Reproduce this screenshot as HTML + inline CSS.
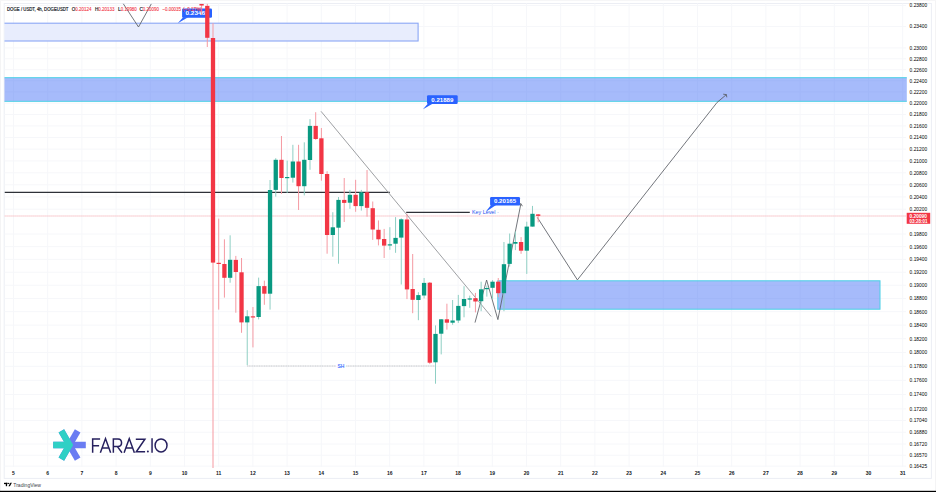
<!DOCTYPE html><html><head><meta charset="utf-8"><style>
html,body{margin:0;padding:0;background:#fff;width:936px;height:492px;overflow:hidden}
svg{display:block}
text{font-family:"Liberation Sans",sans-serif}
</style></head><body>
<svg width="936" height="492" viewBox="0 0 936 492">
<rect x="0" y="0" width="936" height="492" fill="#ffffff"/><rect x="0" y="0" width="1" height="492" fill="#f4f4f5"/><rect x="935" y="0" width="1" height="492" fill="#f4f4f5"/><rect x="0" y="0" width="936" height="1" fill="#f6f6f7"/>
<rect x="4.2" y="3.5" width="927.2" height="474.9" fill="#ffffff" stroke="#eceef4" stroke-width="1"/>
<line x1="13.50" y1="3.5" x2="13.50" y2="467" stroke="#f6f7fa" stroke-width="1"/>
<line x1="47.70" y1="3.5" x2="47.70" y2="467" stroke="#f6f7fa" stroke-width="1"/>
<line x1="81.90" y1="3.5" x2="81.90" y2="467" stroke="#f6f7fa" stroke-width="1"/>
<line x1="116.10" y1="3.5" x2="116.10" y2="467" stroke="#f6f7fa" stroke-width="1"/>
<line x1="150.30" y1="3.5" x2="150.30" y2="467" stroke="#f6f7fa" stroke-width="1"/>
<line x1="184.50" y1="3.5" x2="184.50" y2="467" stroke="#f6f7fa" stroke-width="1"/>
<line x1="218.70" y1="3.5" x2="218.70" y2="467" stroke="#f6f7fa" stroke-width="1"/>
<line x1="252.90" y1="3.5" x2="252.90" y2="467" stroke="#f6f7fa" stroke-width="1"/>
<line x1="287.10" y1="3.5" x2="287.10" y2="467" stroke="#f6f7fa" stroke-width="1"/>
<line x1="321.30" y1="3.5" x2="321.30" y2="467" stroke="#f6f7fa" stroke-width="1"/>
<line x1="355.50" y1="3.5" x2="355.50" y2="467" stroke="#f6f7fa" stroke-width="1"/>
<line x1="389.70" y1="3.5" x2="389.70" y2="467" stroke="#f6f7fa" stroke-width="1"/>
<line x1="423.90" y1="3.5" x2="423.90" y2="467" stroke="#f6f7fa" stroke-width="1"/>
<line x1="458.10" y1="3.5" x2="458.10" y2="467" stroke="#f6f7fa" stroke-width="1"/>
<line x1="492.30" y1="3.5" x2="492.30" y2="467" stroke="#f6f7fa" stroke-width="1"/>
<line x1="526.50" y1="3.5" x2="526.50" y2="467" stroke="#f6f7fa" stroke-width="1"/>
<line x1="560.70" y1="3.5" x2="560.70" y2="467" stroke="#f6f7fa" stroke-width="1"/>
<line x1="594.90" y1="3.5" x2="594.90" y2="467" stroke="#f6f7fa" stroke-width="1"/>
<line x1="629.10" y1="3.5" x2="629.10" y2="467" stroke="#f6f7fa" stroke-width="1"/>
<line x1="663.30" y1="3.5" x2="663.30" y2="467" stroke="#f6f7fa" stroke-width="1"/>
<line x1="697.50" y1="3.5" x2="697.50" y2="467" stroke="#f6f7fa" stroke-width="1"/>
<line x1="731.70" y1="3.5" x2="731.70" y2="467" stroke="#f6f7fa" stroke-width="1"/>
<line x1="765.90" y1="3.5" x2="765.90" y2="467" stroke="#f6f7fa" stroke-width="1"/>
<line x1="800.10" y1="3.5" x2="800.10" y2="467" stroke="#f6f7fa" stroke-width="1"/>
<line x1="834.30" y1="3.5" x2="834.30" y2="467" stroke="#f6f7fa" stroke-width="1"/>
<line x1="868.50" y1="3.5" x2="868.50" y2="467" stroke="#f6f7fa" stroke-width="1"/>
<line x1="902.70" y1="3.5" x2="902.70" y2="467" stroke="#f6f7fa" stroke-width="1"/>
<line x1="4.5" y1="5.46" x2="906" y2="5.46" stroke="#f6f7fa" stroke-width="1"/>
<line x1="4.5" y1="26.51" x2="906" y2="26.51" stroke="#f6f7fa" stroke-width="1"/>
<line x1="4.5" y1="47.93" x2="906" y2="47.93" stroke="#f6f7fa" stroke-width="1"/>
<line x1="4.5" y1="58.78" x2="906" y2="58.78" stroke="#f6f7fa" stroke-width="1"/>
<line x1="4.5" y1="69.73" x2="906" y2="69.73" stroke="#f6f7fa" stroke-width="1"/>
<line x1="4.5" y1="80.77" x2="906" y2="80.77" stroke="#f6f7fa" stroke-width="1"/>
<line x1="4.5" y1="91.91" x2="906" y2="91.91" stroke="#f6f7fa" stroke-width="1"/>
<line x1="4.5" y1="103.15" x2="906" y2="103.15" stroke="#f6f7fa" stroke-width="1"/>
<line x1="4.5" y1="114.49" x2="906" y2="114.49" stroke="#f6f7fa" stroke-width="1"/>
<line x1="4.5" y1="125.94" x2="906" y2="125.94" stroke="#f6f7fa" stroke-width="1"/>
<line x1="4.5" y1="137.50" x2="906" y2="137.50" stroke="#f6f7fa" stroke-width="1"/>
<line x1="4.5" y1="149.16" x2="906" y2="149.16" stroke="#f6f7fa" stroke-width="1"/>
<line x1="4.5" y1="160.94" x2="906" y2="160.94" stroke="#f6f7fa" stroke-width="1"/>
<line x1="4.5" y1="172.82" x2="906" y2="172.82" stroke="#f6f7fa" stroke-width="1"/>
<line x1="4.5" y1="184.83" x2="906" y2="184.83" stroke="#f6f7fa" stroke-width="1"/>
<line x1="4.5" y1="196.94" x2="906" y2="196.94" stroke="#f6f7fa" stroke-width="1"/>
<line x1="4.5" y1="209.18" x2="906" y2="209.18" stroke="#f6f7fa" stroke-width="1"/>
<line x1="4.5" y1="234.03" x2="906" y2="234.03" stroke="#f6f7fa" stroke-width="1"/>
<line x1="4.5" y1="246.64" x2="906" y2="246.64" stroke="#f6f7fa" stroke-width="1"/>
<line x1="4.5" y1="259.38" x2="906" y2="259.38" stroke="#f6f7fa" stroke-width="1"/>
<line x1="4.5" y1="272.25" x2="906" y2="272.25" stroke="#f6f7fa" stroke-width="1"/>
<line x1="4.5" y1="285.26" x2="906" y2="285.26" stroke="#f6f7fa" stroke-width="1"/>
<line x1="4.5" y1="298.41" x2="906" y2="298.41" stroke="#f6f7fa" stroke-width="1"/>
<line x1="4.5" y1="311.69" x2="906" y2="311.69" stroke="#f6f7fa" stroke-width="1"/>
<line x1="4.5" y1="325.12" x2="906" y2="325.12" stroke="#f6f7fa" stroke-width="1"/>
<line x1="4.5" y1="338.70" x2="906" y2="338.70" stroke="#f6f7fa" stroke-width="1"/>
<line x1="4.5" y1="352.42" x2="906" y2="352.42" stroke="#f6f7fa" stroke-width="1"/>
<line x1="4.5" y1="366.30" x2="906" y2="366.30" stroke="#f6f7fa" stroke-width="1"/>
<line x1="4.5" y1="380.34" x2="906" y2="380.34" stroke="#f6f7fa" stroke-width="1"/>
<line x1="4.5" y1="394.54" x2="906" y2="394.54" stroke="#f6f7fa" stroke-width="1"/>
<line x1="4.5" y1="408.90" x2="906" y2="408.90" stroke="#f6f7fa" stroke-width="1"/>
<line x1="4.5" y1="420.51" x2="906" y2="420.51" stroke="#f6f7fa" stroke-width="1"/>
<line x1="4.5" y1="432.22" x2="906" y2="432.22" stroke="#f6f7fa" stroke-width="1"/>
<line x1="4.5" y1="444.05" x2="906" y2="444.05" stroke="#f6f7fa" stroke-width="1"/>
<line x1="4.5" y1="455.25" x2="906" y2="455.25" stroke="#f6f7fa" stroke-width="1"/>
<line x1="4.5" y1="466.17" x2="906" y2="466.17" stroke="#f6f7fa" stroke-width="1"/>
<defs><clipPath id="pane"><rect x="4.5" y="3.5" width="902.3" height="464.5"/></clipPath></defs><g clip-path="url(#pane)">
<rect x="-10" y="23.2" width="428.1" height="17.8" fill="#e8edfd" stroke="#8aa7f5" stroke-width="1.1"/>
<rect x="-10" y="77.7" width="917.5" height="23.6" fill="#3968f6" fill-opacity="0.45" stroke="#4fd0e6" stroke-width="1.05"/>
<rect x="497.8" y="280.8" width="382.2" height="28.4" fill="#3968f6" fill-opacity="0.45" stroke="#4fd0e6" stroke-width="1.05"/>
<line x1="4.5" y1="215.9" x2="906" y2="215.9" stroke="#f8c3c8" stroke-width="1.5" stroke-dasharray="1.1 0.9"/>
<line x1="4.5" y1="192.3" x2="389.8" y2="192.3" stroke="#2e3138" stroke-width="1.15"/>
<line x1="406.2" y1="212.3" x2="469.8" y2="212.3" stroke="#2e3138" stroke-width="1.15"/>
<line x1="247" y1="366" x2="336" y2="366" stroke="#c6c7cb" stroke-width="1.1" stroke-dasharray="1.2 0.5"/>
<line x1="346.2" y1="366" x2="435.2" y2="366" stroke="#c6c7cb" stroke-width="1.1" stroke-dasharray="1.2 0.5"/>
<text x="341" y="368" font-size="6" stroke="#2962ff" stroke-width="0.15" fill="#2962ff" text-anchor="middle" textLength="6.8" lengthAdjust="spacingAndGlyphs">SH</text>
<polyline points="123.2,3.6 138.5,27 151.3,3.9" fill="none" stroke="#5a5d64" stroke-width="0.85"/>
<line x1="321" y1="111.3" x2="491.2" y2="316.5" stroke="#939599" stroke-width="0.9"/>
<polyline points="475,322.6 486.6,280 497.9,319.6 520.9,203.7" fill="none" stroke="#5a5d64" stroke-width="0.85"/>
<polyline points="537.3,217.4 577.4,279.9 717.1,102.4 726.4,94.6" fill="none" stroke="#5a5d64" stroke-width="0.85"/>
<polyline points="723.2,94.2 726.4,94.6 726.8,97.3" fill="none" stroke="#5a5d64" stroke-width="0.85"/>
<polyline points="518.3,204.6 520.9,203.7 522.4,206.2" fill="none" stroke="#5a5d64" stroke-width="0.85"/>
<rect x="427" y="95.3" width="30.70" height="8.70" rx="1.2" fill="#2962ff"/><polygon points="428,103.5 433,103.5 423,109.3" fill="#2962ff"/><text x="442.35" y="101.65" font-size="5.6" font-weight="bold" fill="#fff" text-anchor="middle" textLength="22" lengthAdjust="spacingAndGlyphs">0.21889</text>
<rect x="490.1" y="197.1" width="29.90" height="8.50" rx="1.2" fill="#2962ff"/><polygon points="491.1,205.1 496.1,205.1 485.5,212" fill="#2962ff"/><text x="505.05" y="203.35" font-size="5.6" font-weight="bold" fill="#fff" text-anchor="middle" textLength="22" lengthAdjust="spacingAndGlyphs">0.20165</text>
<text x="472" y="214" font-size="5.6" fill="#1f52f0" textLength="23.5" lengthAdjust="spacingAndGlyphs">Key Level</text><rect x="497.6" y="212" width="1" height="0.6" fill="#9fb4f5"/>
<rect x="182.1" y="8.6" width="29.90" height="9.10" rx="1.2" fill="#2962ff"/><polygon points="183.1,17.2 188.1,17.2 177.8,23.2" fill="#2962ff"/><text x="197.05" y="15.15" font-size="5.6" font-weight="bold" fill="#fff" text-anchor="middle" textLength="23" lengthAdjust="spacingAndGlyphs">0.23465</text>
<rect x="201.09" y="3.90" width="1" height="11.10" fill="#f59aa2"/>
<rect x="199.44" y="3.90" width="4.3" height="1.60" fill="#f23645"/>
<rect x="206.79" y="3.70" width="1" height="43.30" fill="#f59aa2"/>
<rect x="205.14" y="5.90" width="4.3" height="31.90" fill="#f23645"/>
<rect x="212.50" y="23.20" width="1" height="444.80" fill="#f59aa2"/>
<rect x="210.85" y="38.00" width="4.3" height="224.60" fill="#f23645"/>
<rect x="218.21" y="218.60" width="1" height="91.00" fill="#f59aa2"/>
<rect x="216.56" y="262.80" width="4.3" height="1.20" fill="#f23645"/>
<rect x="223.91" y="239.30" width="1" height="58.30" fill="#f59aa2"/>
<rect x="222.26" y="264.00" width="4.3" height="13.80" fill="#f23645"/>
<rect x="229.62" y="235.30" width="1" height="47.40" fill="#8fcfc4"/>
<rect x="227.97" y="259.80" width="4.3" height="18.00" fill="#089981"/>
<rect x="235.32" y="255.90" width="1" height="56.80" fill="#f59aa2"/>
<rect x="233.67" y="259.90" width="4.3" height="12.10" fill="#f23645"/>
<rect x="241.03" y="258.00" width="1" height="74.80" fill="#f59aa2"/>
<rect x="239.38" y="272.30" width="4.3" height="50.10" fill="#f23645"/>
<rect x="246.73" y="310.20" width="1" height="55.00" fill="#8fcfc4"/>
<rect x="245.08" y="316.30" width="4.3" height="6.10" fill="#089981"/>
<rect x="252.44" y="307.00" width="1" height="40.40" fill="#f59aa2"/>
<rect x="250.78" y="316.30" width="4.3" height="1.20" fill="#f23645"/>
<rect x="258.14" y="277.60" width="1" height="41.80" fill="#8fcfc4"/>
<rect x="256.49" y="286.10" width="4.3" height="30.90" fill="#089981"/>
<rect x="263.85" y="280.60" width="1" height="24.20" fill="#f59aa2"/>
<rect x="262.20" y="286.10" width="4.3" height="7.60" fill="#f23645"/>
<rect x="269.55" y="180.00" width="1" height="129.60" fill="#8fcfc4"/>
<rect x="267.90" y="190.00" width="4.3" height="103.70" fill="#089981"/>
<rect x="275.25" y="158.20" width="1" height="38.40" fill="#8fcfc4"/>
<rect x="273.61" y="159.80" width="4.3" height="30.10" fill="#089981"/>
<rect x="280.96" y="136.00" width="1" height="57.90" fill="#f59aa2"/>
<rect x="279.31" y="159.80" width="4.3" height="18.20" fill="#f23645"/>
<rect x="286.67" y="160.60" width="1" height="32.30" fill="#8fcfc4"/>
<rect x="285.02" y="177.00" width="4.3" height="1.20" fill="#089981"/>
<rect x="292.37" y="144.80" width="1" height="37.80" fill="#8fcfc4"/>
<rect x="290.72" y="161.50" width="4.3" height="16.20" fill="#089981"/>
<rect x="298.07" y="144.80" width="1" height="65.20" fill="#f59aa2"/>
<rect x="296.43" y="161.50" width="4.3" height="24.70" fill="#f23645"/>
<rect x="303.78" y="142.30" width="1" height="53.10" fill="#8fcfc4"/>
<rect x="302.13" y="159.80" width="4.3" height="26.40" fill="#089981"/>
<rect x="309.49" y="119.10" width="1" height="50.70" fill="#8fcfc4"/>
<rect x="307.84" y="125.90" width="4.3" height="34.10" fill="#089981"/>
<rect x="315.19" y="112.20" width="1" height="27.70" fill="#f59aa2"/>
<rect x="313.54" y="125.90" width="4.3" height="13.10" fill="#f23645"/>
<rect x="320.89" y="128.00" width="1" height="52.70" fill="#f59aa2"/>
<rect x="319.25" y="138.30" width="4.3" height="35.70" fill="#f23645"/>
<rect x="326.60" y="171.20" width="1" height="82.50" fill="#f59aa2"/>
<rect x="324.95" y="174.00" width="4.3" height="61.00" fill="#f23645"/>
<rect x="332.31" y="212.20" width="1" height="44.50" fill="#8fcfc4"/>
<rect x="330.66" y="227.30" width="4.3" height="7.70" fill="#089981"/>
<rect x="338.01" y="197.00" width="1" height="66.70" fill="#8fcfc4"/>
<rect x="336.36" y="199.90" width="4.3" height="27.80" fill="#089981"/>
<rect x="343.72" y="178.00" width="1" height="44.00" fill="#f59aa2"/>
<rect x="342.07" y="199.90" width="4.3" height="3.00" fill="#f23645"/>
<rect x="349.42" y="189.90" width="1" height="18.90" fill="#8fcfc4"/>
<rect x="347.77" y="194.80" width="4.3" height="7.90" fill="#089981"/>
<rect x="355.12" y="179.80" width="1" height="32.00" fill="#f59aa2"/>
<rect x="353.48" y="194.80" width="4.3" height="11.30" fill="#f23645"/>
<rect x="360.83" y="189.90" width="1" height="20.70" fill="#8fcfc4"/>
<rect x="359.18" y="192.30" width="4.3" height="13.80" fill="#089981"/>
<rect x="366.53" y="170.00" width="1" height="46.70" fill="#f59aa2"/>
<rect x="364.88" y="192.30" width="4.3" height="15.50" fill="#f23645"/>
<rect x="372.24" y="201.50" width="1" height="38.40" fill="#f59aa2"/>
<rect x="370.59" y="208.20" width="4.3" height="21.30" fill="#f23645"/>
<rect x="377.94" y="220.40" width="1" height="25.00" fill="#f59aa2"/>
<rect x="376.30" y="229.80" width="4.3" height="9.50" fill="#f23645"/>
<rect x="383.65" y="228.90" width="1" height="29.10" fill="#f59aa2"/>
<rect x="382.00" y="239.00" width="4.3" height="6.60" fill="#f23645"/>
<rect x="389.36" y="227.20" width="1" height="22.60" fill="#8fcfc4"/>
<rect x="387.71" y="244.30" width="4.3" height="1.20" fill="#089981"/>
<rect x="395.06" y="217.10" width="1" height="35.70" fill="#8fcfc4"/>
<rect x="393.41" y="237.90" width="4.3" height="5.80" fill="#089981"/>
<rect x="400.76" y="218.30" width="1" height="66.20" fill="#8fcfc4"/>
<rect x="399.12" y="219.30" width="4.3" height="18.30" fill="#089981"/>
<rect x="406.47" y="213.80" width="1" height="85.30" fill="#f59aa2"/>
<rect x="404.82" y="219.50" width="4.3" height="69.90" fill="#f23645"/>
<rect x="412.18" y="254.00" width="1" height="59.20" fill="#f59aa2"/>
<rect x="410.53" y="289.00" width="4.3" height="10.80" fill="#f23645"/>
<rect x="417.88" y="292.20" width="1" height="28.00" fill="#8fcfc4"/>
<rect x="416.23" y="295.10" width="4.3" height="4.90" fill="#089981"/>
<rect x="423.59" y="278.00" width="1" height="20.50" fill="#8fcfc4"/>
<rect x="421.94" y="282.90" width="4.3" height="12.60" fill="#089981"/>
<rect x="429.29" y="282.00" width="1" height="82.10" fill="#f59aa2"/>
<rect x="427.64" y="282.70" width="4.3" height="80.00" fill="#f23645"/>
<rect x="435.00" y="325.40" width="1" height="58.30" fill="#8fcfc4"/>
<rect x="433.35" y="333.90" width="4.3" height="28.40" fill="#089981"/>
<rect x="440.70" y="319.00" width="1" height="35.40" fill="#8fcfc4"/>
<rect x="439.05" y="319.30" width="4.3" height="14.40" fill="#089981"/>
<rect x="446.40" y="303.70" width="1" height="25.90" fill="#f59aa2"/>
<rect x="444.75" y="319.30" width="4.3" height="3.40" fill="#f23645"/>
<rect x="452.11" y="300.00" width="1" height="24.80" fill="#8fcfc4"/>
<rect x="450.46" y="320.50" width="4.3" height="2.20" fill="#089981"/>
<rect x="457.81" y="294.90" width="1" height="28.00" fill="#8fcfc4"/>
<rect x="456.17" y="305.90" width="4.3" height="14.60" fill="#089981"/>
<rect x="463.52" y="286.20" width="1" height="31.10" fill="#8fcfc4"/>
<rect x="461.87" y="299.00" width="4.3" height="7.10" fill="#089981"/>
<rect x="469.23" y="295.60" width="1" height="12.20" fill="#8fcfc4"/>
<rect x="467.58" y="298.40" width="4.3" height="1.20" fill="#089981"/>
<rect x="474.93" y="292.90" width="1" height="19.50" fill="#f59aa2"/>
<rect x="473.28" y="298.20" width="4.3" height="3.30" fill="#f23645"/>
<rect x="480.63" y="281.70" width="1" height="29.50" fill="#8fcfc4"/>
<rect x="478.99" y="289.30" width="4.3" height="11.90" fill="#089981"/>
<rect x="486.34" y="285.60" width="1" height="11.00" fill="#8fcfc4"/>
<rect x="484.69" y="288.00" width="4.3" height="1.20" fill="#089981"/>
<rect x="492.05" y="280.10" width="1" height="18.90" fill="#8fcfc4"/>
<rect x="490.40" y="281.70" width="4.3" height="6.10" fill="#089981"/>
<rect x="497.75" y="278.00" width="1" height="19.20" fill="#f59aa2"/>
<rect x="496.10" y="281.70" width="4.3" height="11.50" fill="#f23645"/>
<rect x="503.45" y="242.00" width="1" height="69.20" fill="#8fcfc4"/>
<rect x="501.81" y="264.20" width="4.3" height="29.00" fill="#089981"/>
<rect x="509.16" y="233.50" width="1" height="33.10" fill="#8fcfc4"/>
<rect x="507.51" y="243.70" width="4.3" height="20.20" fill="#089981"/>
<rect x="514.87" y="231.50" width="1" height="18.60" fill="#8fcfc4"/>
<rect x="513.22" y="242.00" width="4.3" height="1.70" fill="#089981"/>
<rect x="520.57" y="237.10" width="1" height="16.70" fill="#f59aa2"/>
<rect x="518.92" y="242.00" width="4.3" height="8.70" fill="#f23645"/>
<rect x="526.27" y="221.70" width="1" height="52.20" fill="#8fcfc4"/>
<rect x="524.62" y="226.60" width="4.3" height="24.10" fill="#089981"/>
<rect x="531.98" y="205.90" width="1" height="20.70" fill="#8fcfc4"/>
<rect x="530.33" y="213.80" width="4.3" height="12.80" fill="#089981"/>
<rect x="537.68" y="214.00" width="1" height="8.30" fill="#f59aa2"/>
<rect x="536.03" y="214.40" width="4.3" height="1.50" fill="#f23645"/>
</g>
<text x="7" y="10.9" font-size="5" stroke="#131722" stroke-width="0.18" fill="#131722" textLength="61.50" lengthAdjust="spacingAndGlyphs">DOGE / USDT, 4h, DOGEUSDT</text>
<text x="71.8" y="10.9" font-size="5" stroke="#131722" stroke-width="0.18" fill="#131722" textLength="3.50" lengthAdjust="spacingAndGlyphs">O</text>
<text x="75.3" y="10.9" font-size="5" stroke="#f23645" stroke-width="0.1" fill="#f23645" textLength="16.20" lengthAdjust="spacingAndGlyphs">0.20124</text>
<text x="94.9" y="10.9" font-size="5" stroke="#131722" stroke-width="0.18" fill="#131722" textLength="3.40" lengthAdjust="spacingAndGlyphs">H</text>
<text x="98.3" y="10.9" font-size="5" stroke="#f23645" stroke-width="0.1" fill="#f23645" textLength="16.30" lengthAdjust="spacingAndGlyphs">0.20133</text>
<text x="118" y="10.9" font-size="5" stroke="#131722" stroke-width="0.18" fill="#131722" textLength="2.80" lengthAdjust="spacingAndGlyphs">L</text>
<text x="120.8" y="10.9" font-size="5" stroke="#f23645" stroke-width="0.1" fill="#f23645" textLength="16.00" lengthAdjust="spacingAndGlyphs">0.19980</text>
<text x="139.4" y="10.9" font-size="5" stroke="#131722" stroke-width="0.18" fill="#131722" textLength="3.40" lengthAdjust="spacingAndGlyphs">C</text>
<text x="142.8" y="10.9" font-size="5" stroke="#f23645" stroke-width="0.1" fill="#f23645" textLength="16.20" lengthAdjust="spacingAndGlyphs">0.20090</text>
<text x="162.5" y="10.9" font-size="5" stroke="#f23645" stroke-width="0.1" fill="#f23645" textLength="18.40" lengthAdjust="spacingAndGlyphs">−0.00035</text>
<text x="183" y="10.9" font-size="5" stroke="#f23645" stroke-width="0.1" fill="#f23645" textLength="18.80" lengthAdjust="spacingAndGlyphs">(−0.17%)</text>
<text x="909.6" y="7.36" font-size="5.3" fill="#000" textLength="17.5" lengthAdjust="spacingAndGlyphs">0.23800</text>
<text x="909.6" y="28.41" font-size="5.3" fill="#000" textLength="17.5" lengthAdjust="spacingAndGlyphs">0.23400</text>
<text x="909.6" y="49.83" font-size="5.3" fill="#000" textLength="17.5" lengthAdjust="spacingAndGlyphs">0.23000</text>
<text x="909.6" y="60.68" font-size="5.3" fill="#000" textLength="17.5" lengthAdjust="spacingAndGlyphs">0.22800</text>
<text x="909.6" y="71.63" font-size="5.3" fill="#000" textLength="17.5" lengthAdjust="spacingAndGlyphs">0.22600</text>
<text x="909.6" y="82.67" font-size="5.3" fill="#000" textLength="17.5" lengthAdjust="spacingAndGlyphs">0.22400</text>
<text x="909.6" y="93.81" font-size="5.3" fill="#000" textLength="17.5" lengthAdjust="spacingAndGlyphs">0.22200</text>
<text x="909.6" y="105.05" font-size="5.3" fill="#000" textLength="17.5" lengthAdjust="spacingAndGlyphs">0.22000</text>
<text x="909.6" y="116.39" font-size="5.3" fill="#000" textLength="17.5" lengthAdjust="spacingAndGlyphs">0.21800</text>
<text x="909.6" y="127.84" font-size="5.3" fill="#000" textLength="17.5" lengthAdjust="spacingAndGlyphs">0.21600</text>
<text x="909.6" y="139.40" font-size="5.3" fill="#000" textLength="17.5" lengthAdjust="spacingAndGlyphs">0.21400</text>
<text x="909.6" y="151.06" font-size="5.3" fill="#000" textLength="17.5" lengthAdjust="spacingAndGlyphs">0.21200</text>
<text x="909.6" y="162.84" font-size="5.3" fill="#000" textLength="17.5" lengthAdjust="spacingAndGlyphs">0.21000</text>
<text x="909.6" y="174.72" font-size="5.3" fill="#000" textLength="17.5" lengthAdjust="spacingAndGlyphs">0.20800</text>
<text x="909.6" y="186.73" font-size="5.3" fill="#000" textLength="17.5" lengthAdjust="spacingAndGlyphs">0.20600</text>
<text x="909.6" y="198.84" font-size="5.3" fill="#000" textLength="17.5" lengthAdjust="spacingAndGlyphs">0.20400</text>
<text x="909.6" y="211.08" font-size="5.3" fill="#000" textLength="17.5" lengthAdjust="spacingAndGlyphs">0.20200</text>
<text x="909.6" y="235.93" font-size="5.3" fill="#000" textLength="17.5" lengthAdjust="spacingAndGlyphs">0.19800</text>
<text x="909.6" y="248.54" font-size="5.3" fill="#000" textLength="17.5" lengthAdjust="spacingAndGlyphs">0.19600</text>
<text x="909.6" y="261.28" font-size="5.3" fill="#000" textLength="17.5" lengthAdjust="spacingAndGlyphs">0.19400</text>
<text x="909.6" y="274.15" font-size="5.3" fill="#000" textLength="17.5" lengthAdjust="spacingAndGlyphs">0.19200</text>
<text x="909.6" y="287.16" font-size="5.3" fill="#000" textLength="17.5" lengthAdjust="spacingAndGlyphs">0.19000</text>
<text x="909.6" y="300.31" font-size="5.3" fill="#000" textLength="17.5" lengthAdjust="spacingAndGlyphs">0.18800</text>
<text x="909.6" y="313.59" font-size="5.3" fill="#000" textLength="17.5" lengthAdjust="spacingAndGlyphs">0.18600</text>
<text x="909.6" y="327.02" font-size="5.3" fill="#000" textLength="17.5" lengthAdjust="spacingAndGlyphs">0.18400</text>
<text x="909.6" y="340.60" font-size="5.3" fill="#000" textLength="17.5" lengthAdjust="spacingAndGlyphs">0.18200</text>
<text x="909.6" y="354.32" font-size="5.3" fill="#000" textLength="17.5" lengthAdjust="spacingAndGlyphs">0.18000</text>
<text x="909.6" y="368.20" font-size="5.3" fill="#000" textLength="17.5" lengthAdjust="spacingAndGlyphs">0.17800</text>
<text x="909.6" y="382.24" font-size="5.3" fill="#000" textLength="17.5" lengthAdjust="spacingAndGlyphs">0.17600</text>
<text x="909.6" y="396.44" font-size="5.3" fill="#000" textLength="17.5" lengthAdjust="spacingAndGlyphs">0.17400</text>
<text x="909.6" y="410.80" font-size="5.3" fill="#000" textLength="17.5" lengthAdjust="spacingAndGlyphs">0.17200</text>
<text x="909.6" y="422.41" font-size="5.3" fill="#000" textLength="17.5" lengthAdjust="spacingAndGlyphs">0.17040</text>
<text x="909.6" y="434.12" font-size="5.3" fill="#000" textLength="17.5" lengthAdjust="spacingAndGlyphs">0.16880</text>
<text x="909.6" y="445.95" font-size="5.3" fill="#000" textLength="17.5" lengthAdjust="spacingAndGlyphs">0.16720</text>
<text x="909.6" y="457.15" font-size="5.3" fill="#000" textLength="17.5" lengthAdjust="spacingAndGlyphs">0.16570</text>
<text x="909.6" y="468.07" font-size="5.3" fill="#000" textLength="17.5" lengthAdjust="spacingAndGlyphs">0.16425</text>
<rect x="906.7" y="212.8" width="23.5" height="11" fill="#f23645"/>
<text x="909.5" y="218" font-size="5" font-weight="bold" fill="#fff" textLength="17.5" lengthAdjust="spacingAndGlyphs">0.20090</text>
<text x="909.5" y="222.9" font-size="5" font-weight="bold" fill="#fff" textLength="18" lengthAdjust="spacingAndGlyphs">03:28:01</text>
<text x="13.50" y="475" font-size="5" font-weight="bold" fill="#131722" text-anchor="middle">5</text>
<text x="47.70" y="475" font-size="5" font-weight="bold" fill="#131722" text-anchor="middle">6</text>
<text x="81.90" y="475" font-size="5" font-weight="bold" fill="#131722" text-anchor="middle">7</text>
<text x="116.10" y="475" font-size="5" font-weight="bold" fill="#131722" text-anchor="middle">8</text>
<text x="150.30" y="475" font-size="5" font-weight="bold" fill="#131722" text-anchor="middle">9</text>
<text x="184.50" y="475" font-size="5" font-weight="bold" fill="#131722" text-anchor="middle">10</text>
<text x="218.70" y="475" font-size="5" font-weight="bold" fill="#131722" text-anchor="middle">11</text>
<text x="252.90" y="475" font-size="5" font-weight="bold" fill="#131722" text-anchor="middle">12</text>
<text x="287.10" y="475" font-size="5" font-weight="bold" fill="#131722" text-anchor="middle">13</text>
<text x="321.30" y="475" font-size="5" font-weight="bold" fill="#131722" text-anchor="middle">14</text>
<text x="355.50" y="475" font-size="5" font-weight="bold" fill="#131722" text-anchor="middle">15</text>
<text x="389.70" y="475" font-size="5" font-weight="bold" fill="#131722" text-anchor="middle">16</text>
<text x="423.90" y="475" font-size="5" font-weight="bold" fill="#131722" text-anchor="middle">17</text>
<text x="458.10" y="475" font-size="5" font-weight="bold" fill="#131722" text-anchor="middle">18</text>
<text x="492.30" y="475" font-size="5" font-weight="bold" fill="#131722" text-anchor="middle">19</text>
<text x="526.50" y="475" font-size="5" font-weight="bold" fill="#131722" text-anchor="middle">20</text>
<text x="560.70" y="475" font-size="5" font-weight="bold" fill="#131722" text-anchor="middle">21</text>
<text x="594.90" y="475" font-size="5" font-weight="bold" fill="#131722" text-anchor="middle">22</text>
<text x="629.10" y="475" font-size="5" font-weight="bold" fill="#131722" text-anchor="middle">23</text>
<text x="663.30" y="475" font-size="5" font-weight="bold" fill="#131722" text-anchor="middle">24</text>
<text x="697.50" y="475" font-size="5" font-weight="bold" fill="#131722" text-anchor="middle">25</text>
<text x="731.70" y="475" font-size="5" font-weight="bold" fill="#131722" text-anchor="middle">26</text>
<text x="765.90" y="475" font-size="5" font-weight="bold" fill="#131722" text-anchor="middle">27</text>
<text x="800.10" y="475" font-size="5" font-weight="bold" fill="#131722" text-anchor="middle">28</text>
<text x="834.30" y="475" font-size="5" font-weight="bold" fill="#131722" text-anchor="middle">29</text>
<text x="868.50" y="475" font-size="5" font-weight="bold" fill="#131722" text-anchor="middle">30</text>
<text x="902.70" y="475" font-size="5" font-weight="bold" fill="#131722" text-anchor="middle">31</text>
<text x="13.3" y="486.6" font-size="5" fill="#40434c" textLength="27.7" lengthAdjust="spacingAndGlyphs">TradingView</text>
<rect x="4" y="482.8" width="3.6" height="1.3" fill="#000"/><rect x="5.8" y="482.8" width="1.3" height="3.4" fill="#000"/><circle cx="8.7" cy="483.4" r="0.7" fill="#000"/><polygon points="10.4,482.8 11.9,482.8 9.9,486.2 8.4,486.2" fill="#000"/>
<polygon points="85.80,448.20 85.80,441.80 53.20,441.80 53.20,448.20" fill="#6a7cf2"/>
<polygon points="74.88,460.72 80.42,457.52 64.12,429.28 58.58,432.48" fill="#6a7cf2"/>
<polygon points="58.58,457.52 64.12,460.72 80.42,432.48 74.88,429.28" fill="#6a7cf2"/>
<polygon points="73.20,445.00 64.12,429.28 58.58,432.48 63.96,441.80 53.20,441.80 53.20,448.20 63.96,448.20 58.58,457.52 64.12,460.72" fill="#2fd0c5"/>
<g fill="none" stroke="#26205e" stroke-width="1.5" stroke-linejoin="miter"><path d="M92.65,452.7 V438.95 H100.1 M92.65,445.75 H99.1"/><path d="M100.35,452.7 L105.5,438.6 L110.65,452.7 M102.2,448 H108.8"/><path d="M113.35,452.7 V438.95 H118 A3.75,3.83 0 0 1 118,446.6 H113.35 M117.4,446.6 L122,452.7"/><path d="M124.1,452.7 L129.25,438.6 L134.4,452.7 M125.95,448 H132.55"/><path d="M135.8,439.3 H144.9 L136.3,451.8 H145.1"/><path d="M152.05,438.2 V452.7"/><ellipse cx="161.05" cy="445.45" rx="5.95" ry="6.55"/></g><circle cx="147.85" cy="451.5" r="1" fill="#26205e"/>
<rect x="0" y="490.8" width="936" height="1.2" fill="#000"/>
</svg></body></html>
